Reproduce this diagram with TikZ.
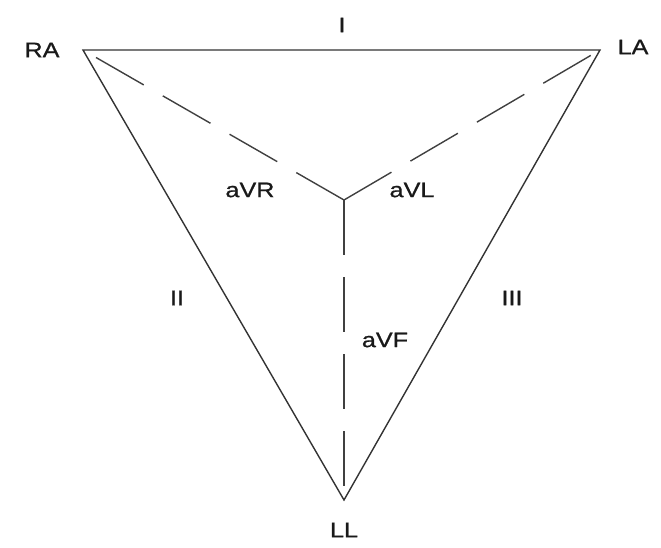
\documentclass[tikz,border=0pt]{standalone}
\usepackage{fontspec}
\setmainfont{Liberation Sans}
\newfontfamily\lblfont{Liberation Sans}[FakeBold=0.8]
\begin{document}
\begin{tikzpicture}[x=1pt,y=-1pt,
  side/.style={line width=1.4pt,draw=black!80},
  lead/.style={line width=1.4pt,draw=black!75,dash pattern=on 55pt off 22pt},
  lbl/.style={font=\fontsize{21}{24}\lblfont,text=black!90,inner sep=0pt}]
\useasboundingbox (0,0) rectangle (661,547);
\coordinate (ra) at (83,50);
\coordinate (la) at (600,50);
\coordinate (ll) at (344,500);
\coordinate (c) at (344,200);
\draw[side] (ra) -- (la) -- (ll) -- cycle;
\draw[lead] (c) -- (ra);
\draw[lead] (c) -- (la);
\draw[lead] (c) -- (ll);
\node[lbl] (tra) at (42,50) {\scalebox{1.2}[1]{RA}};
\node[lbl] (tla) at (633,47) {\scalebox{1.2}[1]{LA}};
\node[lbl] (tll) at (344,530) {\scalebox{1.2}[1]{LL}};
\node[lbl] (ti) at (342,25) {\scalebox{1.2}[1]{I}};
\node[lbl] (tii) at (177,298) {\scalebox{1.2}[1]{II}};
\node[lbl] (tiii) at (512,298) {\scalebox{1.2}[1]{III}};
\node[lbl] (tavr) at (250,190) {\scalebox{1.2}[1]{aVR}};
\node[lbl] (tavl) at (412,190) {\scalebox{1.2}[1]{aVL}};
\node[lbl] (tavf) at (385,340) {\scalebox{1.2}[1]{aVF}};
\end{tikzpicture}
\end{document}
